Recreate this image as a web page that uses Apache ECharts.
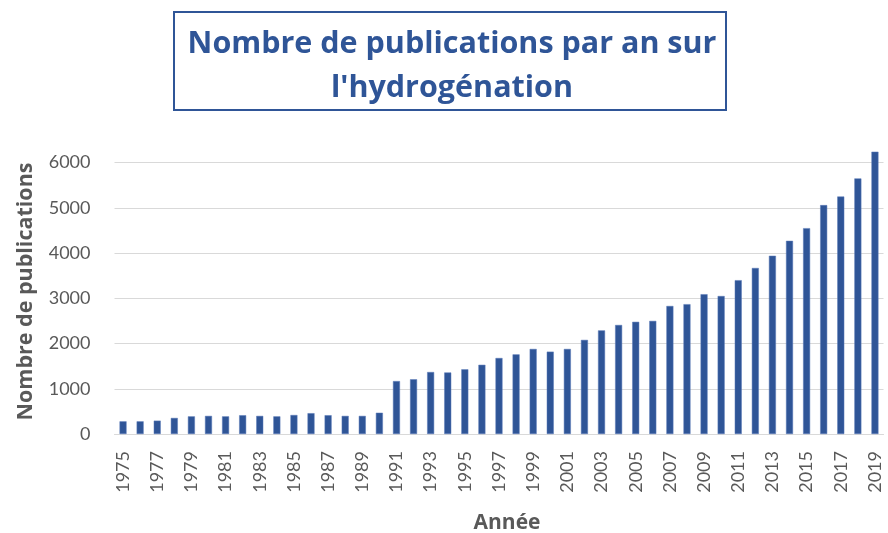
<!DOCTYPE html>
<html>
<head>
<meta charset="utf-8">
<script src="https://cdn.jsdelivr.net/npm/echarts@6/dist/echarts.min.js"></script>
<style>
  html, body { margin: 0; padding: 0; background: #ffffff; }
  #chart { width: 888px; height: 533px; }
</style>
</head>
<body>
<div id="chart"></div>
<script>
// Years covered by the survey
const years = [
  '1975','1976','1977','1978','1979','1980','1981','1982','1983','1984',
  '1985','1986','1987','1988','1989','1990','1991','1992','1993','1994',
  '1995','1996','1997','1998','1999','2000','2001','2002','2003','2004',
  '2005','2006','2007','2008','2009','2010','2011','2012','2013','2014',
  '2015','2016','2017','2018','2019'
];

// Publications counted per year
const publications = [
  280, 280, 295, 355, 390, 400, 390, 415, 400, 390,
  420, 460, 415, 400, 400, 470, 1170, 1210, 1370, 1360,
  1430, 1530, 1680, 1760, 1880, 1820, 1880, 2080, 2290, 2410,
  2480, 2500, 2830, 2870, 3090, 3050, 3400, 3670, 3940, 4270,
  4550, 5060, 5250, 5650, 6240
];

const titleLines = ['Nombre de publications par an sur', "l'hydrogénation"];
const xAxisTitle = 'Année';
const yAxisTitle = 'Nombre de publications';

const LABEL_FONT = 'Lato, "Open Sans", sans-serif';
const BOLD_FONT = '"Open Sans", Lato, sans-serif';
const BLUE = '#2F5597';
const GREY = '#595959';

const chart = echarts.init(document.getElementById('chart'), null, { renderer: 'canvas' });

chart.setOption({
  backgroundColor: '#ffffff',
  animation: false,
  title: {
    text: titleLines.join('\n'),
    left: 447,
    top: 17,
    textAlign: 'center',
    textStyle: {
      fontFamily: BOLD_FONT,
      fontWeight: 'bold',
      fontSize: 30.5,
      lineHeight: 44,
      color: BLUE
    }
  },
  graphic: [{
    type: 'rect',
    shape: { x: 174, y: 12, width: 552, height: 98 },
    style: { fill: 'none', stroke: BLUE, lineWidth: 2 },
    silent: true
  }],
  grid: {
    left: 114.5,
    right: 4.5,
    top: 149,
    bottom: 99,
    containLabel: false,
    outerBoundsMode: 'none'
  },
  xAxis: {
    type: 'category',
    data: years,
    boundaryGap: true,
    name: xAxisTitle,
    nameLocation: 'middle',
    nameGap: 79,
    nameTextStyle: {
      fontFamily: BOLD_FONT,
      fontWeight: 'bold',
      fontSize: 21,
      color: GREY,
      padding: [0, 0, 0, 16]
    },
    axisLine: { show: true, lineStyle: { color: '#d9d9d9', width: 1 } },
    axisTick: { show: false },
    axisLabel: {
      interval: 1,
      rotate: 90,
      margin: 17,
      fontFamily: LABEL_FONT,
      fontSize: 18,
      color: GREY
    },
    splitLine: { show: false }
  },
  yAxis: {
    type: 'value',
    min: 0,
    max: 6300,
    interval: 1000,
    name: yAxisTitle,
    nameLocation: 'middle',
    nameGap: 78,
    nameRotate: 90,
    nameTextStyle: {
      fontFamily: BOLD_FONT,
      fontWeight: 'bold',
      fontSize: 21.5,
      color: GREY
    },
    axisLine: { show: false },
    axisTick: { show: false },
    axisLabel: {
      margin: 24,
      showMaxLabel: false,
      formatter: function (v) { return String(v); },
      fontFamily: LABEL_FONT,
      fontSize: 18,
      color: GREY
    },
    splitLine: {
      show: true,
      showMaxLine: false,
      lineStyle: { color: '#d9d9d9', width: 1 }
    }
  },
  series: [{
    type: 'bar',
    data: publications,
    barWidth: '41%',
    itemStyle: { color: BLUE, borderColor: '#5a7bb8', borderWidth: 0.5 },
    clip: false
  }]
});
</script>
</body>
</html>
